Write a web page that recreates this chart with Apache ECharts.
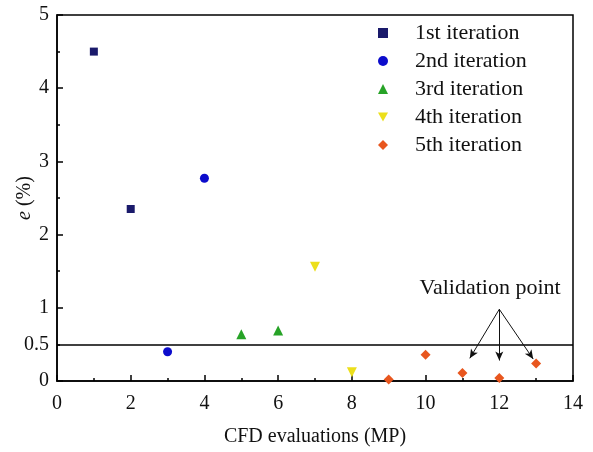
<!DOCTYPE html>
<html>
<head>
<meta charset="utf-8">
<script src="https://cdn.jsdelivr.net/npm/echarts@6/dist/echarts.min.js"></script>
<style>
  html, body { margin: 0; padding: 0; background: #fff; }
  #chart { width: 593px; height: 452px; }
</style>
</head>
<body>
<div id="chart"></div>
<script>
// Error e (%) of each CFD evaluation, grouped by optimisation iteration
const seriesNames = ['1st iteration', '2nd iteration', '3rd iteration', '4th iteration', '5th iteration'];
const iter1 = [[1, 4.5], [2, 2.35]];
const iter2 = [[3, 0.40], [4, 2.77]];
const iter3 = [[5, 0.64], [6, 0.69]];
const iter4 = [[7, 1.56], [8, 0.12]];
const iter5 = [[9, 0.02], [10, 0.36], [11, 0.11], [12, 0.04], [13, 0.24]];
const threshold = 0.5;
const yTickLabels = ['0', '0.5', '1', '2', '3', '4', '5'];
// Validation annotation: arrow origin and the three arrow heads
const arrowFrom = [12, 0.98];
const arrowTo = [[11.2, 0.31], [12, 0.28], [12.92, 0.30]];
const annotationText = 'Validation point';
const annotationAt = [11.75, 1.27];

const FONT = '"Liberation Serif", "Times New Roman", serif';
const colors = ['#1a1a6b', '#0c0ccc', '#27a327', '#ecdf1c', '#e8561e'];
const symbols = ['rect', 'circle', 'triangle', 'path://M0,0 L10,0 L5,9 Z', 'diamond'];
const sizes = [8, 9, 10, 10, 10];
const groups = [iter1, iter2, iter3, iter4, iter5];

const chart = echarts.init(document.getElementById('chart'));

const series = groups.map((g, i) => ({
  name: seriesNames[i],
  type: 'scatter',
  data: g,
  symbol: symbols[i],
  symbolSize: sizes[i],
  itemStyle: { color: colors[i], opacity: 1 },
  z: 5
}));

// threshold line and validation arrows
series.push({
  type: 'scatter',
  data: [],
  silent: true,
  markLine: {
    silent: true,
    symbol: 'none',
    label: { show: false },
    lineStyle: { color: '#000', width: 1.6, type: 'solid' },
    data: [{ yAxis: threshold }]
  }
});
series.push({
  type: 'scatter',
  data: [],
  silent: true,
  markLine: {
    silent: true,
    symbol: ['none', 'arrow'],
    symbolSize: [6, 9],
    label: { show: false },
    lineStyle: { color: '#111', width: 1, type: 'solid' },
    data: arrowTo.map(p => [{ coord: arrowFrom }, { coord: p }])
  },
  markPoint: {
    silent: true,
    symbol: 'circle',
    symbolSize: 0,
    label: {
      show: true,
      formatter: annotationText,
      fontFamily: FONT,
      fontSize: 22,
      color: '#111'
    },
    data: [{ coord: annotationAt }]
  }
});

chart.setOption({
  animation: false,
  backgroundColor: '#fff',
  grid: {
    left: 57, right: 20, top: 15, bottom: 71,
    show: true, borderColor: '#000', borderWidth: 1.5
  },
  legend: {
    data: seriesNames,
    orient: 'vertical',
    left: 373,
    top: 17,
    itemWidth: 10,
    itemHeight: 10,
    itemGap: 6,
    textStyle: {
      fontFamily: FONT, fontSize: 22, color: '#111',
      padding: [0, 0, 0, 22]
    }
  },
  xAxis: {
    type: 'value',
    min: 0, max: 14, interval: 2,
    name: 'CFD evaluations (MP)',
    nameLocation: 'middle',
    nameGap: 46,
    nameMoveOverlap: false,
    nameTextStyle: { fontFamily: FONT, fontSize: 20, color: '#111' },
    axisLine: { show: true, onZero: false, lineStyle: { color: '#000', width: 1.5 } },
    axisTick: { show: true, inside: true, length: 6, lineStyle: { color: '#000', width: 1.5 } },
    minorTick: { show: true, splitNumber: 2, length: 3, lineStyle: { color: '#000', width: 1.5 } },
    splitLine: { show: false },
    axisLabel: { fontFamily: FONT, fontSize: 20, color: '#111', margin: 13 }
  },
  yAxis: [{
    type: 'value',
    min: 0, max: 5, interval: 1,
    name: '{i|e} (%)',
    nameLocation: 'middle',
    nameGap: 22,
    nameRotate: 90,
    nameMoveOverlap: false,
    nameTextStyle: {
      fontFamily: FONT, fontSize: 20, color: '#111',
      rich: { i: { fontFamily: FONT, fontSize: 20, fontStyle: 'italic', color: '#111' } }
    },
    axisLine: { show: true, onZero: false, lineStyle: { color: '#000', width: 1.5 } },
    axisTick: { show: true, inside: true, length: 6, lineStyle: { color: '#000', width: 1.5 } },
    minorTick: { show: true, splitNumber: 2, length: 3, lineStyle: { color: '#000', width: 1.5 } },
    splitLine: { show: false },
    axisLabel: {
      fontFamily: FONT, fontSize: 20, color: '#111', margin: 8,
      formatter: v => (yTickLabels.indexOf(String(v)) >= 0 ? String(v) : '')
    }
  }, {
    // extra label at the 0.5 threshold
    type: 'value',
    position: 'left',
    min: 0, max: 5, interval: 0.5,
    axisLine: { show: false },
    axisTick: { show: false },
    splitLine: { show: false },
    axisLabel: {
      fontFamily: FONT, fontSize: 20, color: '#111', margin: 8,
      formatter: v => (v === threshold ? String(v) : '')
    }
  }],
  series: series
});
</script>
</body>
</html>
